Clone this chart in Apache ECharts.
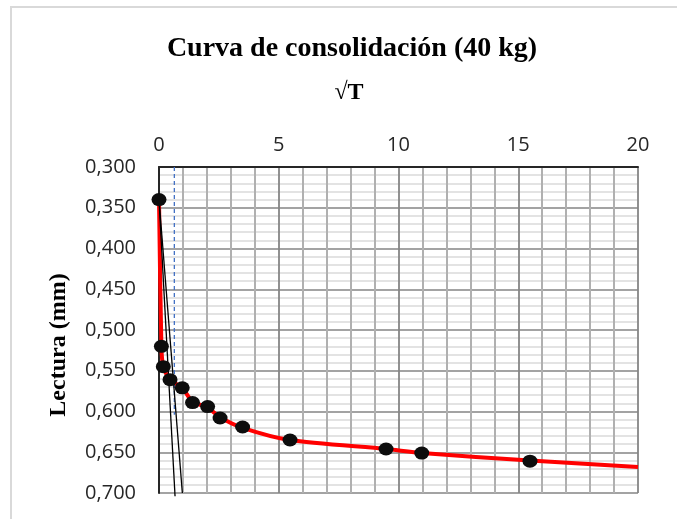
<!DOCTYPE html>
<html>
<head>
<meta charset="utf-8">
<script src="https://cdn.jsdelivr.net/npm/echarts@6/dist/echarts.min.js"></script>
<style>
html,body{margin:0;padding:0;background:#fff;}
#chart{width:677px;height:519px;}
</style>
</head>
<body>
<div id="chart"></div>
<script>
// measured points: sqrt(T) vs Lectura (mm)
var sqrtT   = [0, 0.10, 0.18, 0.46, 0.97, 1.40, 2.03, 2.55, 3.49, 5.47, 9.48, 10.97, 15.49];
var lectura = [0.340, 0.520, 0.545, 0.561, 0.571, 0.589, 0.594, 0.608, 0.619, 0.635, 0.646, 0.651, 0.661];
// red fitted curve
var curveX = [0, 0.10, 0.18, 0.46, 0.97, 1.40, 2.03, 2.55, 3.49, 5.47, 9.48, 10.97, 15.49, 20];
var curveY = [0.340, 0.520, 0.545, 0.561, 0.571, 0.588, 0.595, 0.607, 0.620, 0.635, 0.646, 0.651, 0.660, 0.668];
// construction lines
var tangentX = [0, 0.67];
var tangentY = [0.340, 0.704];
var tangent2X = [0, 0.975];
var tangent2Y = [0.340, 0.700];
var t90X = [0.64, 0.64];
var t90Y = [0.300, 0.604];
var xTicks = [0, 5, 10, 15, 20];
var yTicks = [0.300, 0.350, 0.400, 0.450, 0.500, 0.550, 0.600, 0.650, 0.700];

function pairs(xs, ys){ return xs.map(function(x,i){ return [x, ys[i]]; }); }

var chart = echarts.init(document.getElementById('chart'), null, {renderer:'canvas'});
var option = {
  animation: false,
  backgroundColor: '#ffffff',
  title: [
    {text: 'Curva de consolidación (40 kg)', left: 347, top: 30, textAlign: 'center',
     textStyle: {fontFamily: 'Liberation Serif', fontWeight: 'bold', fontSize: 28, color: '#000'}},
    {text: '√T', left: 344, top: 76, textAlign: 'center',
     textStyle: {fontFamily: 'Liberation Serif', fontWeight: 'bold', fontSize: 24, color: '#000'}}
  ],
  graphic: [
    {type: 'rect', shape: {x: 11, y: 7, width: 720, height: 620}, style: {fill: 'none', stroke: '#d9d9d9', lineWidth: 2}, silent: true},
    {type: 'text', x: 59, y: 345, rotation: Math.PI/2,
     style: {text: 'Lectura (mm)', fontFamily: 'Liberation Serif', fontWeight: 'bold', fontSize: 24, fill: '#000', align: 'center', verticalAlign: 'middle'}}
  ],
  grid: {left: 159, right: 39, top: 167, bottom: 26, containLabel: false},
  xAxis: {
    type: 'value', position: 'top', min: xTicks[0], max: xTicks[xTicks.length-1], interval: 5,
    axisLine: {show: true, onZero: false, lineStyle: {color: '#262626', width: 2}},
    axisTick: {show: false},
    axisLabel: {margin: 12, fontFamily: 'Open Sans', fontSize: 20, color: '#262626'},
    splitLine: {show: true, lineStyle: {color: '#858585', width: 1.8}},
    minorTick: {show: false, splitNumber: 5},
    minorSplitLine: {show: true, lineStyle: {color: '#b0b0b0', width: 2}}
  },
  yAxis: {
    type: 'value', inverse: true, min: yTicks[0], max: yTicks[yTicks.length-1], interval: 0.05,
    axisLine: {show: true, onZero: false, lineStyle: {color: '#262626', width: 2}},
    axisTick: {show: false},
    axisLabel: {margin: 23, fontFamily: 'Open Sans', fontSize: 20, color: '#262626',
      formatter: function(v){ return v.toFixed(3).replace('.', ','); }},
    splitLine: {show: true, lineStyle: {color: '#858585', width: 1.6}},
    minorTick: {show: false, splitNumber: 5},
    minorSplitLine: {show: true, lineStyle: {color: '#dadada', width: 1.5}}
  },
  series: [
    {type: 'line', data: pairs(t90X, t90Y), symbol: 'none', lineStyle: {color: '#4472c4', width: 1.3, type: [4, 3]}, z: 3},
    {type: 'line', data: pairs(curveX, curveY), symbol: 'none', smooth: 0.25, lineStyle: {color: '#ff0000', width: 4}, z: 4},
    {type: 'line', data: pairs(tangentX, tangentY), symbol: 'none', clip: false, lineStyle: {color: '#000', width: 1.3}, z: 5},
    {type: 'line', data: pairs(tangent2X, tangent2Y), symbol: 'none', clip: false, lineStyle: {color: '#000', width: 1.3}, z: 5},
    {type: 'scatter', data: pairs(sqrtT, lectura), symbol: 'circle', symbolSize: [15, 13], itemStyle: {color: '#0d0d0d', opacity: 1}, z: 6}
  ]
};
chart.setOption(option);
</script>
</body>
</html>
